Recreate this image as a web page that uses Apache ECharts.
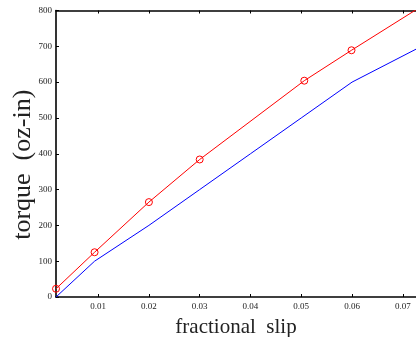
<!DOCTYPE html>
<html>
<head>
<meta charset="utf-8">
<script src="https://cdn.jsdelivr.net/npm/echarts@6/dist/echarts.min.js"></script>
<style>
  html, body { margin: 0; padding: 0; background: #fff; }
  #chart { width: 416px; height: 337px; }
</style>
</head>
<body>
<div id="chart"></div>
<script>
// Torque vs fractional slip, two curves
const slipMeasured = [0.0017, 0.0093, 0.02, 0.03, 0.0506, 0.0599, 0.0726];
const torqueMeasured = [23, 125, 265, 384, 604, 689, 802];
const slipModel = [0.0017, 0.0093, 0.02, 0.03, 0.04, 0.05, 0.06, 0.0726];
const torqueModel = [0, 100, 200, 300, 400, 500, 600, 692];
const xTicks = [0.01, 0.02, 0.03, 0.04, 0.05, 0.06, 0.07];
const yTicks = [0, 100, 200, 300, 400, 500, 600, 700, 800];

const serif = '"Liberation Serif", "DejaVu Serif", serif';
const xMin = 0.0017, xMax = 0.0726;

const chart = echarts.init(document.getElementById('chart'), null, { renderer: 'canvas' });

const axisLine = { show: true, onZero: false, lineStyle: { color: '#000', width: 1.6 } };

chart.setOption({
  animation: false,
  backgroundColor: '#fff',
  grid: { left: 56, right: 0, top: 10.5, bottom: 40, containLabel: false, outerBoundsMode: 'none' },
  xAxis: [
    {
      type: 'value', position: 'bottom', min: xMin, max: xMax,
      axisLine: axisLine,
      axisTick: { show: true, inside: true, length: 3, customValues: xTicks, lineStyle: { color: '#000' } },
      axisLabel: {
        customValues: xTicks, color: '#222', fontFamily: serif, fontSize: 9, margin: 5,
        formatter: v => v.toFixed(2)
      },
      splitLine: { show: false },
      name: 'fractional  slip', nameLocation: 'middle', nameGap: 20,
      nameTextStyle: { fontFamily: serif, fontSize: 21, color: '#222' }
    },
    {
      type: 'value', position: 'top', min: xMin, max: xMax,
      axisLine: axisLine,
      axisTick: { show: true, inside: true, length: 3, customValues: xTicks, lineStyle: { color: '#000' } },
      axisLabel: { show: false },
      splitLine: { show: false }
    }
  ],
  yAxis: {
    type: 'value', min: 0, max: 800,
    axisLine: axisLine,
    axisTick: { show: true, inside: true, length: 3, customValues: yTicks, lineStyle: { color: '#000' } },
    axisLabel: { customValues: yTicks, color: '#222', fontFamily: serif, fontSize: 9, margin: 4 },
    splitLine: { show: false },
    name: 'torque  (oz-in)', nameLocation: 'middle', nameGap: 20, nameRotate: 90,
    nameMoveOverlap: false,
    nameTextStyle: { fontFamily: serif, fontSize: 26, color: '#222', padding: [0, 22, 0, 0] }
  },
  series: [
    {
      type: 'line', xAxisIndex: 0,
      data: slipModel.map((s, i) => [s, torqueModel[i]]),
      showSymbol: false, symbol: 'none',
      lineStyle: { color: '#0000ff', width: 1 }
    },
    {
      type: 'line', xAxisIndex: 0,
      data: slipMeasured.map((s, i) => ({
        value: [s, torqueMeasured[i]],
        symbol: i < slipMeasured.length - 1 ? 'circle' : 'none'
      })),
      symbolSize: 7,
      itemStyle: { color: 'rgba(255,255,255,0)', borderColor: '#ff0000', borderWidth: 1 },
      lineStyle: { color: '#ff0000', width: 1 }
    }
  ]
});
</script>
</body>
</html>
